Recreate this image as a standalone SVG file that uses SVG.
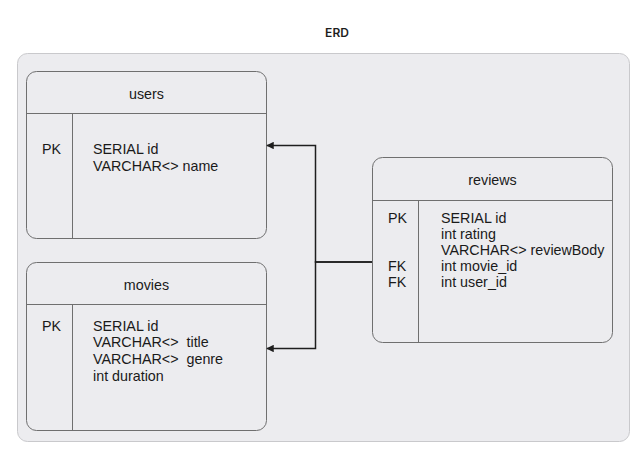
<svg xmlns="http://www.w3.org/2000/svg" width="642" height="458" viewBox="0 0 642 458">
  <defs>
    <style>
      .t { font-family: "Liberation Sans", Arial, sans-serif; font-size: 14.3px; fill: #1a1a1a; }
      .h { text-anchor: middle; }
      .title { font-family: Inter, "Liberation Sans", sans-serif; font-size: 12px; font-weight: 600; fill: #1e1e1e; text-anchor: middle; }
      .tbl { fill: #ececef; stroke: #6f6f6f; stroke-width: 1; }
      .div { stroke: #6f6f6f; stroke-width: 1; fill: none; }
      .edge { stroke: #1e1e1e; stroke-width: 1.5; fill: none; }
    </style>
    <marker id="arr" viewBox="0 0 10 10" refX="9" refY="5" markerWidth="5" markerHeight="5" orient="auto">
      <path d="M0,0 L10,5 L0,10 z" fill="#1e1e1e"/>
    </marker>
  </defs>
  <rect width="642" height="458" fill="#ffffff"/>
  <text class="title" x="337" y="37">ERD</text>
  <rect x="17.5" y="53.5" width="612" height="388" rx="10" fill="#ececef" stroke="#c9c9cc" stroke-width="1"/>

  <g id="users">
    <rect class="tbl" x="26.5" y="71.5" width="240" height="167" rx="10"/>
    <line class="div" x1="26.5" y1="113.5" x2="266.5" y2="113.5"/>
    <line class="div" x1="72.5" y1="113.5" x2="72.5" y2="238.5"/>
    <text class="t h" x="146.5" y="99">users</text>
    <text class="t" x="42" y="154">PK</text>
    <text class="t" x="93" y="154">SERIAL id</text>
    <text class="t" x="93" y="171">VARCHAR&lt;&gt; name</text>
  </g>

  <g id="movies">
    <rect class="tbl" x="26.5" y="262.5" width="240" height="168" rx="10"/>
    <line class="div" x1="26.5" y1="304.5" x2="266.5" y2="304.5"/>
    <line class="div" x1="72.5" y1="304.5" x2="72.5" y2="430.5"/>
    <text class="t h" x="146.5" y="290">movies</text>
    <text class="t" x="42" y="330.5">PK</text>
    <text class="t" x="93" y="330.5">SERIAL id</text>
    <text class="t" x="93" y="347" xml:space="preserve">VARCHAR&lt;&gt;  title</text>
    <text class="t" x="93" y="364" xml:space="preserve">VARCHAR&lt;&gt;  genre</text>
    <text class="t" x="93" y="380.5">int duration</text>
  </g>

  <g id="reviews">
    <rect class="tbl" x="372.5" y="157.5" width="240" height="185" rx="10"/>
    <line class="div" x1="372.5" y1="200.5" x2="612.5" y2="200.5"/>
    <line class="div" x1="418.5" y1="200.5" x2="418.5" y2="342.5"/>
    <text class="t h" x="492.5" y="185">reviews</text>
    <text class="t" x="388" y="222.5">PK</text>
    <text class="t" x="441" y="222.5">SERIAL id</text>
    <text class="t" x="441" y="238.5">int rating</text>
    <text class="t" x="441" y="254.5">VARCHAR&lt;&gt; reviewBody</text>
    <text class="t" x="388" y="270.5">FK</text>
    <text class="t" x="441" y="270.5">int movie_id</text>
    <text class="t" x="388" y="287">FK</text>
    <text class="t" x="441" y="287">int user_id</text>
  </g>

  <g id="connectors">
    <path class="edge" d="M372,262 H315.5 V145.5 H267" marker-end="url(#arr)"/>
    <path class="edge" d="M372,262 H315.5 V348.5 H267" marker-end="url(#arr)"/>
  </g>
</svg>
